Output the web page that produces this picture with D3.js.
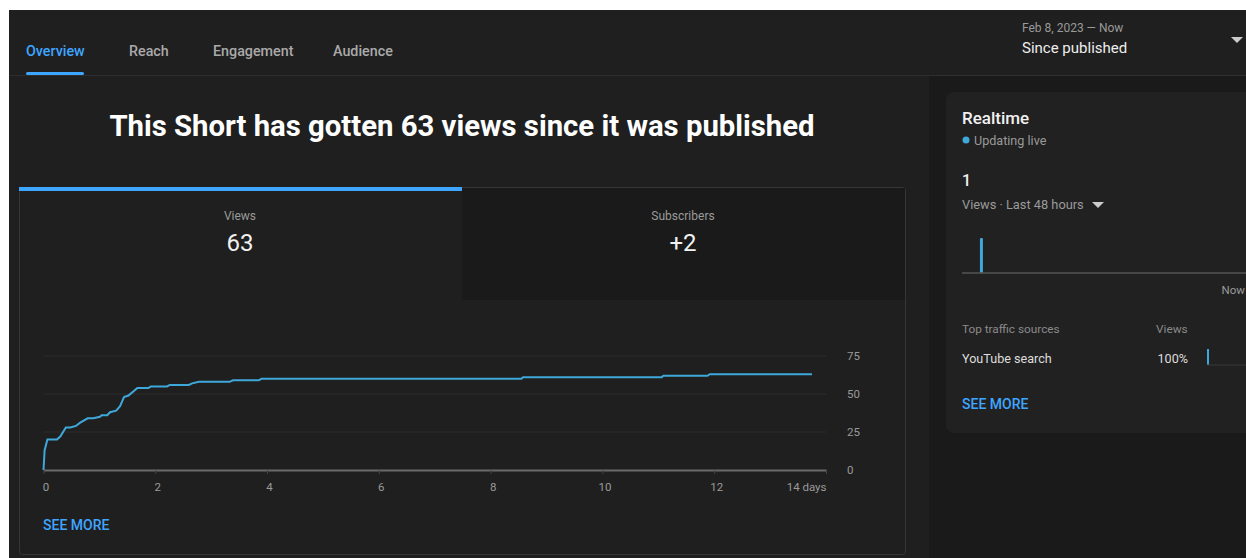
<!DOCTYPE html>
<html>
<head>
<meta charset="utf-8">
<script src="https://cdn.jsdelivr.net/npm/d3@7"></script>
<style>
	body { margin: 0; background: #fff; }
	svg { display: block; font-family: Roboto, 'Noto Sans', sans-serif; }
</style>
</head>
<body>
<div id="chart"></div>
<script>
// data
var tabs = ['Overview', 'Reach', 'Engagement', 'Audience'];
var tabX = [26, 129, 213, 333];
var days = [0, 0.02, 0.07, 0.24, 0.3, 0.4, 0.48, 0.58, 0.65, 0.79, 0.89, 1.01, 1.04, 1.14, 1.19, 1.3, 1.37, 1.44, 1.52, 1.68, 1.88, 1.92, 2.21, 2.26, 2.6, 2.66, 2.78, 3.33, 3.39, 3.85, 3.9, 8.55, 8.58, 11.06, 11.09, 11.88, 11.92, 13.75];
var views = [0, 13, 20, 20, 22, 28, 28, 29, 31, 34, 34, 35, 36, 36, 38, 39, 42, 48, 49, 54, 54, 55, 55, 56, 56, 57, 58, 58, 59, 59, 60, 60, 61, 61, 62, 62, 63, 63];
var xTicks = [0, 2, 4, 6, 8, 10, 12, 14];
var yTicks = [0, 25, 50, 75];
var realtimeHours = d3.range(48);
var realtimeViews = [0, 0, 0, 1, 0, 0, 0, 0, 0, 0, 0, 0, 0, 0, 0, 0, 0, 0, 0, 0, 0, 0, 0, 0, 0, 0, 0, 0, 0, 0, 0, 0, 0, 0, 0, 0, 0, 0, 0, 0, 0, 0, 0, 0, 0, 0, 0, 0];
var sources = ['YouTube search'];
var sourceShare = [100];

var W = 1246, H = 558;
var blue = '#3ea6ff', lineBlue = '#3fa8da';

var svg = d3.select('#chart').append('svg').attr('width', W).attr('height', H);

// page backgrounds
svg.append('rect').attr('x', 9).attr('y', 10).attr('width', W - 9).attr('height', H - 10).attr('fill', '#1f1f1f');
svg.append('rect').attr('x', 929).attr('y', 76).attr('width', W - 929).attr('height', H - 76).attr('fill', '#1a1a1a');
svg.append('line').attr('x1', 9).attr('x2', W).attr('y1', 75.5).attr('y2', 75.5).attr('stroke', '#2e2e2e');

// header tabs
svg.selectAll('.tab').data(tabs).enter().append('text')
	.attr('class', 'tab')
	.attr('x', function (d, i) { return tabX[i]; })
	.attr('y', 56)
	.attr('font-size', 14.3).attr('font-weight', 500)
	.attr('fill', function (d, i) { return i === 0 ? blue : '#aaaaaa'; })
	.text(function (d) { return d; });
svg.append('rect').attr('x', 26).attr('y', 72).attr('width', 58).attr('height', 3).attr('rx', 1.5).attr('fill', blue);

// date range
svg.append('text').attr('x', 1022).attr('y', 32).attr('font-size', 12).attr('fill', '#9a9a9a').text('Feb 8, 2023 \u2014 Now');
svg.append('text').attr('x', 1022).attr('y', 53).attr('font-size', 15).attr('fill', '#eeeeee').text('Since published');
svg.append('path').attr('d', 'M1231,37 L1243,37 L1237,43 Z').attr('fill', '#cccccc');

// title
svg.append('text').attr('x', 462).attr('y', 136).attr('text-anchor', 'middle')
	.attr('font-size', 29.3).attr('font-weight', 700).attr('fill', '#ffffff')
	.text('This Short has gotten 63 views since it was published');

// main card
svg.append('rect').attr('x', 19.5).attr('y', 187.5).attr('width', 886).attr('height', 367).attr('rx', 3)
	.attr('fill', '#1f1f1f').attr('stroke', '#363636');
svg.append('rect').attr('x', 462).attr('y', 188).attr('width', 443).attr('height', 112).attr('fill', '#1a1a1a');
svg.append('rect').attr('x', 19).attr('y', 187).attr('width', 443).attr('height', 4).attr('fill', blue);

var cards = [{ label: 'Views', value: '63', cx: 240 }, { label: 'Subscribers', value: '+2', cx: 683 }];
cards.forEach(function (c) {
	svg.append('text').attr('x', c.cx).attr('y', 220).attr('text-anchor', 'middle').attr('font-size', 12).attr('fill', '#9a9a9a').text(c.label);
	svg.append('text').attr('x', c.cx).attr('y', 251).attr('text-anchor', 'middle').attr('font-size', 24).attr('fill', '#f1f1f1').text(c.value);
});

// line chart
var x = d3.scaleLinear().domain([0, 14]).range([43.5, 826]);
var y = d3.scaleLinear().domain([0, 75]).range([470, 356]);

var g = svg.append('g');
g.selectAll('.grid').data(yTicks.slice(1)).enter().append('line')
	.attr('x1', x(0)).attr('x2', x(14))
	.attr('y1', function (d) { return y(d); }).attr('y2', function (d) { return y(d); })
	.attr('stroke', '#2d2d2d');

g.selectAll('.ylab').data(yTicks).enter().append('text')
	.attr('x', 847).attr('y', function (d) { return y(d) + 4; })
	.attr('font-size', 11.5).attr('fill', '#9a9a9a')
	.text(function (d) { return d; });

var xAxis = d3.axisBottom(x).tickValues(xTicks).tickSize(4).tickSizeOuter(0)
	.tickFormat(function (d) { return d === 14 ? '14 days' : d; });
var ax = g.append('g').attr('transform', 'translate(0,470)').call(xAxis);
ax.select('.domain').attr('stroke', '#6a6a6a').attr('stroke-width', 2);
ax.selectAll('.tick line').attr('stroke', '#444');
ax.selectAll('.tick text').attr('fill', '#9a9a9a').attr('font-size', 11.5).attr('dy', '1.25em')
	.attr('font-family', 'Roboto, sans-serif')
	.attr('text-anchor', function (d) { return d === 14 ? 'end' : 'middle'; })
	.attr('dx', function (d) { return d === 14 ? 0 : 2; });

var line = d3.line().x(function (d, i) { return x(days[i]); }).y(function (d) { return y(d); });
g.append('path').datum(views).attr('d', line).attr('fill', 'none').attr('stroke', lineBlue).attr('stroke-width', 2);

svg.append('text').attr('x', 43).attr('y', 530).attr('font-size', 14).attr('font-weight', 500).attr('fill', blue).text('SEE MORE');

// realtime card
svg.append('rect').attr('x', 946).attr('y', 92).attr('width', 320).attr('height', 341).attr('rx', 8).attr('fill', '#212121');
svg.append('text').attr('x', 962).attr('y', 124).attr('font-size', 17).attr('font-weight', 500).attr('fill', '#f1f1f1').text('Realtime');
svg.append('circle').attr('cx', 966).attr('cy', 140).attr('r', 3.5).attr('fill', lineBlue);
svg.append('text').attr('x', 974).attr('y', 145).attr('font-size', 12.6).attr('fill', '#9a9a9a').text('Updating live');
svg.append('text').attr('x', 962).attr('y', 186).attr('font-size', 16).attr('font-weight', 500).attr('fill', '#f1f1f1').text('1');
svg.append('text').attr('x', 962).attr('y', 209).attr('font-size', 12.8).attr('fill', '#9a9a9a').text('Views \u00b7 Last 48 hours');
svg.append('path').attr('d', 'M1092,202 L1104,202 L1098,208 Z').attr('fill', '#cccccc');

var rx = d3.scaleBand().domain(realtimeHours).range([962, 1246]).paddingInner(0.5);
var ry = d3.scaleLinear().domain([0, 1]).range([273, 238]);
svg.selectAll('.rt').data(realtimeViews).enter().append('rect')
	.attr('x', function (d, i) { return rx(i); })
	.attr('y', function (d) { return ry(d); })
	.attr('width', rx.bandwidth())
	.attr('height', function (d) { return ry(0) - ry(d); })
	.attr('rx', 1)
	.attr('fill', lineBlue);
svg.append('line').attr('x1', 962).attr('x2', 1246).attr('y1', 273).attr('y2', 273).attr('stroke', '#555').attr('stroke-width', 1.5);
svg.append('text').attr('x', 1245).attr('y', 294).attr('text-anchor', 'end').attr('font-size', 11.5).attr('fill', '#9a9a9a').text('Now');

svg.append('text').attr('x', 962).attr('y', 333).attr('font-size', 11.8).attr('fill', '#8a8a8a').text('Top traffic sources');
svg.append('text').attr('x', 1156).attr('y', 333).attr('font-size', 11.8).attr('fill', '#8a8a8a').text('Views');

var sx = d3.scaleLinear().domain([0, 100]).range([0, 1]);
sources.forEach(function (s, i) {
	var yy = 363 + i * 30;
	svg.append('text').attr('x', 962).attr('y', yy).attr('font-size', 12.6).attr('fill', '#dddddd').text(s);
	svg.append('text').attr('x', 1188).attr('y', yy).attr('text-anchor', 'end').attr('font-size', 12.6).attr('fill', '#dddddd').text(sourceShare[i] + '%');
	svg.append('rect').attr('x', 1207).attr('y', yy - 14).attr('width', 1 + sx(sourceShare[i])).attr('height', 16).attr('fill', lineBlue);
	svg.append('line').attr('x1', 1207).attr('x2', 1246).attr('y1', yy + 2).attr('y2', yy + 2).attr('stroke', '#3a3a3a');
});

svg.append('text').attr('x', 962).attr('y', 409).attr('font-size', 14).attr('font-weight', 500).attr('fill', blue).text('SEE MORE');
</script>
</body>
</html>
